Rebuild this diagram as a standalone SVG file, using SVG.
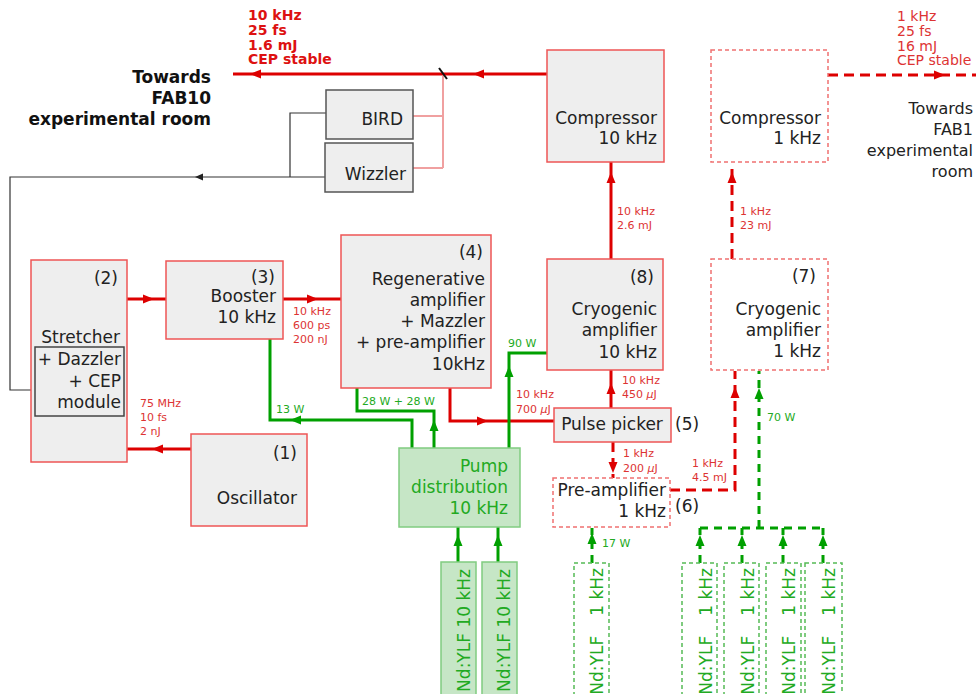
<svg xmlns="http://www.w3.org/2000/svg" xmlns:xlink="http://www.w3.org/1999/xlink" width="976" height="694" viewBox="0 0 976 694">
<style>
text{font-family:"DejaVu Sans","Liberation Sans",sans-serif;}
.lbl{font-size:17px;fill:#222;text-anchor:end;}
.box{fill:#eeeeee;stroke:#ee5555;stroke-width:1.5;}
.dbox{fill:#ffffff;stroke:#f07070;stroke-width:1.5;stroke-dasharray:4 3;}
.gbox{fill:#c6e6c6;stroke:#80cc80;stroke-width:1.5;}
.gdbox{fill:#ffffff;stroke:#55bb55;stroke-width:1.5;stroke-dasharray:4 3;}
.kbox{fill:#eeeeee;stroke:#555555;stroke-width:1.5;}
.red{fill:none;stroke:#dd0000;stroke-width:3;}
.redd{fill:none;stroke:#dd0000;stroke-width:3;stroke-dasharray:10 6;}
.grn{fill:none;stroke:#00a000;stroke-width:3;}
.grnd{fill:none;stroke:#00a000;stroke-width:3;stroke-dasharray:8 6;}
.pink{fill:none;stroke:#f0a0a0;stroke-width:2;}
.blk{fill:none;stroke:#333333;stroke-width:1.2;}
.rs{font-size:11px;fill:#dd3333;}
.gs{font-size:11px;fill:#22aa22;}
.ahr{fill:#dd0000;}
.ahg{fill:#00a000;}
.gt{font-size:17px;fill:#22aa22;text-anchor:end;}
</style>
<defs>
<path id="ah" d="M0,0 L-11,-4.5 L-11,4.5 Z"/>
<path id="ahs" d="M0,0 L-8,-3.5 L-8,3.5 Z"/>
</defs>

<g id="connectors">
  <!-- red solid -->
  <path class="red" d="M191,449 L127,449"/>
  <path class="red" d="M127,299 L166,299"/>
  <path class="red" d="M283,299 L341,299"/>
  <path class="red" d="M450,388 L450,421 L554,421"/>
  <path class="red" d="M611,408 L611,370"/>
  <path class="red" d="M611,259 L611,162"/>
  <path class="red" d="M547,74 L233,74"/>
  <!-- red dashed -->
  <path class="redd" d="M828,75 L976,75"/>
  <path class="redd" d="M732,259 L732,163"/>
  <path class="redd" d="M613,442 L613,478"/>
  <path class="redd" d="M670,490 L735,490 L735,371"/>
  <!-- splitter & pink -->
  <path class="pink" d="M443,76 L443,168 M413,116 L443,116 M413,168 L443,168"/>
  <line x1="439" y1="68" x2="447" y2="79" stroke="#111" stroke-width="2"/>
  <!-- black feedback -->
  <path class="blk" d="M326,113 L290,113 L290,177"/>
  <path class="blk" d="M325,177 L10,177 L10,390 L35,390"/>
  <!-- green solid -->
  <path class="grn" d="M412,448 L412,420 L270,420 L270,339"/>
  <path class="grn" d="M434,448 L434,411 L357,411 L357,388"/>
  <path class="grn" d="M509,448 L509,353 L547,353"/>
  <path class="grn" d="M458,562 L458,527"/>
  <path class="grn" d="M498,562 L498,527"/>
  <!-- green dashed -->
  <path class="grnd" d="M592,563 L592,528"/>
  <path class="grnd" d="M700,563 L700,528 M742,563 L742,528 M783,563 L783,528 M823,563 L823,528"/>
  <path class="grnd" d="M700,528 L823,528 M759,528 L759,371"/>

  <!-- arrowheads -->
  <use xlink:href="#ah" class="ahr" transform="translate(152,449) rotate(180)"/>
  <use xlink:href="#ah" class="ahr" transform="translate(154,299)"/>
  <use xlink:href="#ah" class="ahr" transform="translate(318,299)"/>
  <use xlink:href="#ah" class="ahr" transform="translate(488,421)"/>
  <use xlink:href="#ah" class="ahr" transform="translate(611,383) rotate(-90)"/>
  <use xlink:href="#ah" class="ahr" transform="translate(611,172) rotate(-90)"/>
  <use xlink:href="#ah" class="ahr" transform="translate(473,74) rotate(180)"/>
  <use xlink:href="#ah" class="ahr" transform="translate(250,74) rotate(180)"/>
  <use xlink:href="#ah" class="ahr" transform="translate(945,75)"/>
  <use xlink:href="#ah" class="ahr" transform="translate(732,172) rotate(-90)"/>
  <use xlink:href="#ah" class="ahr" transform="translate(613,473) rotate(90)"/>
  <use xlink:href="#ah" class="ahr" transform="translate(735,387) rotate(-90)"/>
  <use xlink:href="#ahs" fill="#222" transform="translate(195,177) rotate(180)"/>
  <use xlink:href="#ah" class="ahg" transform="translate(290,420) rotate(180)"/>
  <use xlink:href="#ah" class="ahg" transform="translate(434,420) rotate(-90)"/>
  <use xlink:href="#ah" class="ahg" transform="translate(509,366) rotate(-90)"/>
  <use xlink:href="#ah" class="ahg" transform="translate(458,535) rotate(-90)"/>
  <use xlink:href="#ah" class="ahg" transform="translate(498,535) rotate(-90)"/>
  <use xlink:href="#ah" class="ahg" transform="translate(592,533) rotate(-90)"/>
  <use xlink:href="#ah" class="ahg" transform="translate(700,535) rotate(-90)"/>
  <use xlink:href="#ah" class="ahg" transform="translate(742,535) rotate(-90)"/>
  <use xlink:href="#ah" class="ahg" transform="translate(783,535) rotate(-90)"/>
  <use xlink:href="#ah" class="ahg" transform="translate(823,535) rotate(-90)"/>
  <use xlink:href="#ah" class="ahg" transform="translate(759,388) rotate(-90)"/>

  <!-- connector labels -->
  <text class="rs" x="293"><tspan x="293" y="315">10 kHz</tspan><tspan x="293" y="329">600 ps</tspan><tspan x="293" y="343">200 nJ</tspan></text>
  <text class="rs"><tspan x="140" y="407">75 MHz</tspan><tspan x="140" y="421">10 fs</tspan><tspan x="140" y="435">2 nJ</tspan></text>
  <text class="gs" x="276" y="413">13 W</text>
  <text class="gs" x="362" y="405">28 W + 28 W</text>
  <text class="gs" x="508" y="347">90 W</text>
  <text class="rs"><tspan x="516" y="398">10 kHz</tspan><tspan x="516" y="413">700 <tspan font-style="italic">µ</tspan>J</tspan></text>
  <text class="rs"><tspan x="622" y="384">10 kHz</tspan><tspan x="622" y="398">450 <tspan font-style="italic">µ</tspan>J</tspan></text>
  <text class="rs"><tspan x="623" y="457">1 kHz</tspan><tspan x="623" y="472">200 <tspan font-style="italic">µ</tspan>J</tspan></text>
  <text class="rs"><tspan x="692" y="467">1 kHz</tspan><tspan x="692" y="481">4.5 mJ</tspan></text>
  <text class="gs" x="767" y="421">70 W</text>
  <text class="gs" x="602" y="547">17 W</text>
  <text class="rs"><tspan x="617" y="215">10 kHz</tspan><tspan x="617" y="229">2.6 mJ</tspan></text>
  <text class="rs"><tspan x="740" y="215">1 kHz</tspan><tspan x="740" y="229">23 mJ</tspan></text>
  <text style="font-size:14px;font-weight:bold;fill:#dd1111"><tspan x="248" y="20">10 kHz</tspan><tspan x="248" y="35">25 fs</tspan><tspan x="248" y="49.5">1.6 mJ</tspan><tspan x="248" y="64">CEP stable</tspan></text>
  <text style="font-size:14px;fill:#dd3333"><tspan x="897" y="21">1 kHz</tspan><tspan x="897" y="36">25 fs</tspan><tspan x="897" y="50.5">16 mJ</tspan><tspan x="897" y="65">CEP stable</tspan></text>
  <text style="font-size:17px;font-weight:bold;fill:#111;text-anchor:end"><tspan x="211" y="83">Towards</tspan><tspan x="211" y="104">FAB10</tspan><tspan x="211" y="125">experimental room</tspan></text>
  <text style="font-size:16px;fill:#222;text-anchor:end"><tspan x="973" y="114">Towards</tspan><tspan x="973" y="135">FAB1</tspan><tspan x="973" y="156">experimental</tspan><tspan x="973" y="177">room</tspan></text>
</g>

<g id="oscillator">
  <rect class="box" x="191" y="434" width="116" height="92"/>
  <text class="lbl" x="297" y="459">(1)</text>
  <text class="lbl" x="297" y="504">Oscillator</text>
</g>
<g id="stretcher">
  <rect class="box" x="31" y="260" width="96" height="202"/>
  <rect x="35" y="347" width="89" height="69" fill="none" stroke="#444" stroke-width="1.5"/>
  <text class="lbl" x="118" y="284">(2)</text>
  <text class="lbl" x="120" y="343">Stretcher</text>
  <text class="lbl" x="121" y="365">+ Dazzler</text>
  <text class="lbl" x="121" y="387">+ CEP</text>
  <text class="lbl" x="121" y="408">module</text>
</g>
<g id="booster">
  <rect class="box" x="166" y="261" width="117" height="78"/>
  <text class="lbl" x="275" y="283">(3)</text>
  <text class="lbl" x="276" y="302">Booster</text>
  <text class="lbl" x="276" y="323">10 kHz</text>
</g>
<g id="regen">
  <rect class="box" x="341" y="235" width="150" height="153"/>
  <text class="lbl" x="483" y="258">(4)</text>
  <text class="lbl" x="485" y="285">Regenerative</text>
  <text class="lbl" x="485" y="306">amplifier</text>
  <text class="lbl" x="485" y="327">+ Mazzler</text>
  <text class="lbl" x="485" y="348">+ pre-amplifier</text>
  <text class="lbl" x="485" y="370">10kHz</text>
</g>
<g id="cryo10">
  <rect class="box" x="547" y="259" width="116" height="111"/>
  <text class="lbl" x="654" y="283">(8)</text>
  <text class="lbl" x="657" y="315">Cryogenic</text>
  <text class="lbl" x="657" y="336">amplifier</text>
  <text class="lbl" x="657" y="358">10 kHz</text>
</g>
<g id="pulsepicker">
  <rect class="box" x="554" y="408" width="117" height="34"/>
  <text class="lbl" x="612" y="430" style="text-anchor:middle">Pulse picker</text>
  <text class="lbl" x="675" y="430" style="text-anchor:start">(5)</text>
</g>
<g id="preamp">
  <rect class="dbox" x="553" y="478" width="117" height="49"/>
  <text class="lbl" x="666" y="496">Pre-amplifier</text>
  <text class="lbl" x="666" y="517">1 kHz</text>
  <text class="lbl" x="675" y="512" style="text-anchor:start">(6)</text>
</g>
<g id="cryo1">
  <rect class="dbox" x="711" y="259" width="117" height="111"/>
  <text class="lbl" x="816" y="282">(7)</text>
  <text class="lbl" x="821" y="315">Cryogenic</text>
  <text class="lbl" x="821" y="336">amplifier</text>
  <text class="lbl" x="821" y="357">1 kHz</text>
</g>
<g id="comp10">
  <rect class="box" x="547" y="50" width="117" height="112"/>
  <text class="lbl" x="657" y="124">Compressor</text>
  <text class="lbl" x="657" y="144">10 kHz</text>
</g>
<g id="comp1">
  <rect class="dbox" x="711" y="50" width="117" height="112"/>
  <text class="lbl" x="821" y="124">Compressor</text>
  <text class="lbl" x="821" y="144">1 kHz</text>
</g>
<g id="bird">
  <rect class="kbox" x="326" y="90" width="87" height="49"/>
  <text class="lbl" x="403" y="125">BIRD</text>
</g>
<g id="wizzler">
  <rect class="kbox" x="325" y="143" width="88" height="49"/>
  <text class="lbl" x="406" y="180">Wizzler</text>
</g>
<g id="pump">
  <rect class="gbox" x="399" y="448" width="121" height="79"/>
  <text class="gt" x="508" y="472">Pump</text>
  <text class="gt" x="508" y="493">distribution</text>
  <text class="gt" x="508" y="514">10 kHz</text>
</g>
<g id="ndylf10a">
  <rect class="gbox" x="441" y="562" width="35" height="140"/>
  <text class="gt" transform="translate(470,569) rotate(-90)">Nd:YLF 10 kHz</text>
</g>
<g id="ndylf10b">
  <rect class="gbox" x="482" y="562" width="35" height="140"/>
  <text class="gt" transform="translate(510,569) rotate(-90)">Nd:YLF 10 kHz</text>
</g>
<g id="ndylf1a">
  <rect class="gdbox" x="574" y="563" width="35" height="140"/>
  <text class="gt" transform="translate(603,568) rotate(-90)">Nd:YLF<tspan dx="20">1 kHz</tspan></text>
</g>
<g id="ndylf1b">
  <rect class="gdbox" x="682" y="563" width="35" height="140"/>
  <text class="gt" transform="translate(712,568) rotate(-90)">Nd:YLF<tspan dx="20">1 kHz</tspan></text>
</g>
<g id="ndylf1c">
  <rect class="gdbox" x="724" y="563" width="35" height="140"/>
  <text class="gt" transform="translate(754,568) rotate(-90)">Nd:YLF<tspan dx="20">1 kHz</tspan></text>
</g>
<g id="ndylf1d">
  <rect class="gdbox" x="766" y="563" width="35" height="140"/>
  <text class="gt" transform="translate(795,568) rotate(-90)">Nd:YLF<tspan dx="20">1 kHz</tspan></text>
</g>
<g id="ndylf1e">
  <rect class="gdbox" x="805" y="563" width="37" height="140"/>
  <text class="gt" transform="translate(835,568) rotate(-90)">Nd:YLF<tspan dx="20">1 kHz</tspan></text>
</g>
</svg>
